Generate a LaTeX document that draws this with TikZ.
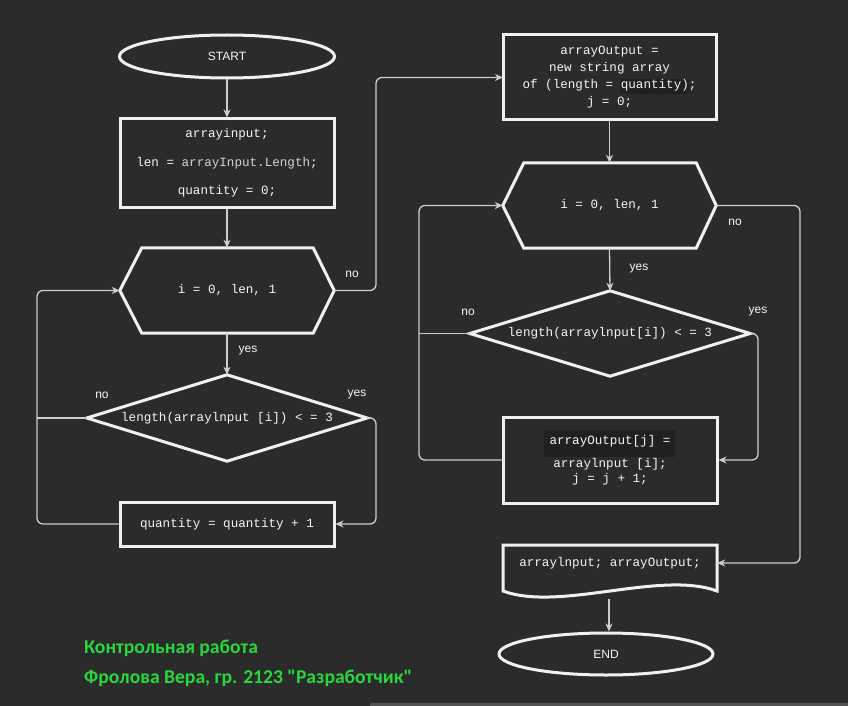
\documentclass[tikz,border=0pt]{standalone}
\usepackage{fontspec}
\setmainfont{Liberation Sans}
\newfontfamily\monof{Liberation Mono}
\newfontfamily\greenf{Carlito}
\usetikzlibrary{arrows.meta,shapes.geometric}
\definecolor{bg}{RGB}{43,43,43}
\definecolor{frame}{RGB}{240,240,240}
\definecolor{wire}{RGB}{205,205,205}
\definecolor{txt}{RGB}{245,245,245}
\definecolor{hl}{RGB}{32,32,32}
\definecolor{grn}{RGB}{40,215,60}
\definecolor{strip}{RGB}{80,82,84}
\tikzset{
  box/.style={draw=frame,line width=3pt,inner sep=0pt,text=txt,align=center,font=\monof\fontsize{12.6}{15}\selectfont},
  holder/.style={inner sep=0pt,text=txt,align=center,font=\monof\fontsize{12.6}{15}\selectfont},
  outline/.style={draw=frame,line width=3pt,line join=miter},
  term/.style={ellipse,draw=frame,line width=3pt,inner sep=0pt,text=txt,font=\fontsize{12}{14}\selectfont},
  conn/.style={draw=wire,line width=1.3pt,rounded corners=6pt,-{Stealth[length=8pt,width=7pt,inset=2.5pt]}},
  wireline/.style={draw=wire,line width=1.3pt,rounded corners=6pt},
  lbl/.style={text=txt,inner sep=0pt,font=\fontsize{12}{14}\selectfont},
  note/.style={text=grn,inner sep=0pt,anchor=west,font=\greenf\bfseries\fontsize{19.6}{24}\selectfont}
}
\begin{document}
\begin{tikzpicture}[x=1pt,y=-1pt]
\fill[bg] (0,0) rectangle (848,706);
\useasboundingbox (0,0) rectangle (848,706);
\fill[strip,rounded corners=2pt] (370,703) rectangle (860,712);

% highlights
\fill[hl] (620,79) rectangle (689,94);
\fill[hl] (544,430) rectangle (675,457);

% left column
\node[term,minimum width=215pt,minimum height=43pt] (start) at (227,56.5) {START};
\node[box,minimum width=214pt,minimum height=88pt] (b1) at (227,163)
  {arrayinput;\\[13.4pt]len = {\color[RGB]{210,210,210}arrayInput.Length};\\[13.4pt]quantity = 0;};
\node[holder,minimum width=214pt,minimum height=85pt] (h1) at (227,290.5) {i = 0, len, 1};
\draw[outline] (h1.west) -- ([xshift=22pt]h1.north west) -- ([xshift=-21pt]h1.north east)
  -- (h1.east) -- ([xshift=-21pt]h1.south east) -- ([xshift=22pt]h1.south west) -- cycle;
\node[holder,minimum width=280pt,minimum height=86pt] (d1) at (227,418) {length(arraylnput [i]) < = 3};
\draw[outline] (d1.west) -- (d1.north) -- (d1.east) -- (d1.south) -- cycle;
\node[box,minimum width=214pt,minimum height=44pt] (q) at (227,524) {quantity = quantity + 1};

\coordinate (L1) at (37,290.5);
\coordinate (R1) at (376,418);
\coordinate (U1) at (376,77.5);

\draw[conn] (start) -- (b1);
\draw[conn] (b1) -- (h1.north);
\draw[conn] (h1.south) -- (d1.north);
\draw[conn] (q.west) -| (L1) -- (h1.west);
\draw[wireline] (d1.west) -- (d1.west -| L1);
\draw[conn] (d1.east) -- (R1) |- (q.east);
\draw[conn] (h1.east) -| (U1) -- (503,77.5);

\node[lbl] (n1) at (352,274) {no};
\node[lbl] (y1) at (248,351) {yes};
\node[lbl] (n2) at (102,395) {no};
\node[lbl] (y2) at (357,395) {yes};

% right column
\node[box,minimum width=213pt,minimum height=85pt] (ao) at (609.5,77.5)
  {arrayOutput =\\[2pt]new string array\\[2pt]of (length = quantity);\\[2pt]j = 0;};
\node[holder,minimum width=213pt,minimum height=85pt] (h2) at (609.5,205.5) {i = 0, len, 1};
\draw[outline] (h2.west) -- ([xshift=21pt]h2.north west) -- ([xshift=-20pt]h2.north east)
  -- (h2.east) -- ([xshift=-20pt]h2.south east) -- ([xshift=21pt]h2.south west) -- cycle;
\node[holder,minimum width=280pt,minimum height=85pt] (d2) at (610,333.5) {length(arraylnput[i]) < = 3};
\draw[outline] (d2.west) -- (d2.north) -- (d2.east) -- (d2.south) -- cycle;
\node[box,minimum width=214pt,minimum height=86pt] (b3) at (610,460)
  {arrayOutput[j] =\\[8pt]arraylnput [i];\\j = j + 1;};
\node[holder,minimum width=214pt,minimum height=36pt] (doc) at (610,563) {arraylnput; arrayOutput;};
\draw[outline] (503,591) -- (503,545) -- (717,545) -- (717,591)
  .. controls (660,570) and (560,612) .. cycle;
\coordinate (docb) at (609,599);
\node[term,minimum width=214pt,minimum height=42pt] (end) at (606,654) {END};

\coordinate (L2) at (419,205.5);
\coordinate (R2) at (758,333.5);
\coordinate (R3) at (800,205.5);

\draw[conn] (ao) -- (h2.north);
\draw[conn] (h2.south) -- (d2.north);
\draw[conn] (b3.west) -| (L2) -- (h2.west);
\draw[wireline] (d2.west) -- (d2.west -| L2);
\draw[conn] (d2.east) -- (R2) |- (b3.east);
\draw[conn] (h2.east) -- (R3) |- (doc.east);
\draw[conn] (docb) -- (docb |- end.north);

\node[lbl] (y3) at (639,269) {yes};
\node[lbl] (n3) at (468,312) {no};
\node[lbl] (y4) at (758,312) {yes};
\node[lbl] (n4) at (735,222) {no};

% notes
\node[note] (t1) at (84,648) {Контрольная работа};
\node[note] (t2) at (84,678) {Фролова Вера, гр. 2123 "Разработчик"};
\end{tikzpicture}
\end{document}
